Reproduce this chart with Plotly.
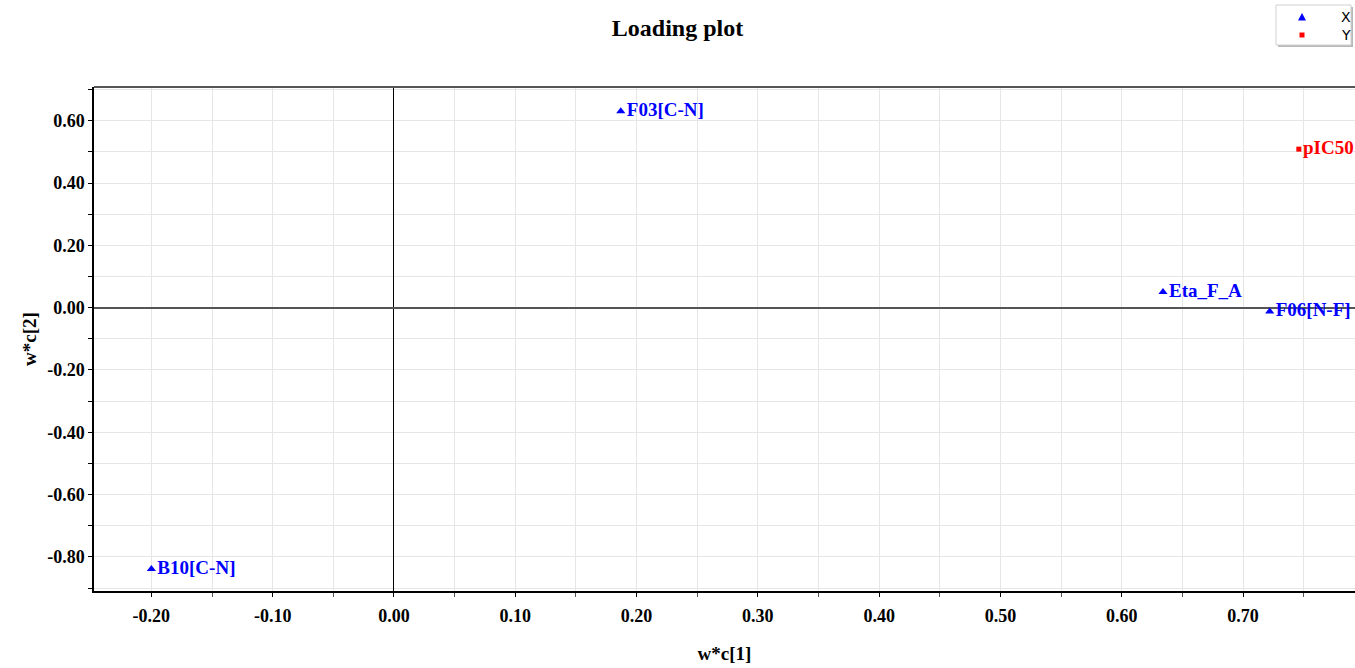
import plotly.graph_objects as go

# Loadings (w*c) for the X-block variables and the Y response
x_names = ["F03[C-N]", "B10[C-N]", "Eta_F_A", "F06[N-F]"]
x_wc1 = [0.187, -0.200, 0.634, 0.722]
x_wc2 = [0.631, -0.839, 0.050, -0.012]

y_names = ["pIC50"]
y_wc1 = [0.746]
y_wc2 = [0.509]

x_ticks = [-0.2, -0.1, 0.0, 0.1, 0.2, 0.3, 0.4, 0.5, 0.6, 0.7]
y_ticks = [-0.8, -0.6, -0.4, -0.2, 0.0, 0.2, 0.4, 0.6]

serif = "Liberation Serif"
blue = "#0000ff"
red = "#ff0000"

W, H = 1355, 668
ML, MR, MT, MB = 94, 0, 87, 77
PW, PH = W - ML - MR, H - MT - MB


def px(xp):
    """pixel column -> paper x"""
    return (xp - ML) / PW


def py(yp):
    """pixel row -> paper y"""
    return (H - MB - yp) / PH


fig = go.Figure()
fig.add_trace(go.Scatter(
    x=x_wc1, y=x_wc2, name="X", mode="markers+text",
    text=x_names, textposition="middle right",
    marker=dict(symbol="triangle-up", size=8, color=blue),
    textfont=dict(family=serif, size=19, color=blue, weight="bold"),
    cliponaxis=False,
))
fig.add_trace(go.Scatter(
    x=y_wc1, y=y_wc2, name="Y", mode="markers+text",
    text=y_names, textposition="middle right",
    marker=dict(symbol="square", size=5, color=red),
    textfont=dict(family=serif, size=19, color=red, weight="bold"),
    cliponaxis=False,
))

axis_font = dict(family=serif, size=18, color="#000000", weight="bold")

fig.update_xaxes(
    range=[-0.2473, 0.7923],
    tickvals=x_ticks, ticktext=[f"{v:.2f}" for v in x_ticks],
    tickfont=axis_font, ticks="outside", ticklen=4, tickcolor="#000",
    ticklabelstandoff=3,
    showgrid=True, gridcolor="#e6e6e6", gridwidth=1,
    minor=dict(dtick=0.05, showgrid=True, gridcolor="#e6e6e6",
               ticks="outside", ticklen=4, tickcolor="#555"),
    zeroline=True, zerolinecolor="#000000", zerolinewidth=1,
    showline=True, linecolor="#000000", linewidth=2,
    title=dict(text="w*c[1]", font=dict(family=serif, size=19, color="#000", weight="bold"),
               standoff=22),
)
fig.update_yaxes(
    range=[-0.9095, 0.7085],
    tickvals=y_ticks, ticktext=[f"{v:.2f}" for v in y_ticks],
    tickfont=axis_font, ticks="outside", ticklen=4, tickcolor="#000",
    showgrid=True, gridcolor="#e6e6e6", gridwidth=1,
    minor=dict(dtick=0.1, showgrid=True, gridcolor="#e6e6e6",
               ticks="outside", ticklen=4, tickcolor="#000"),
    zeroline=True, zerolinecolor="#555555", zerolinewidth=1.5,
    showline=True, linecolor="#000000", linewidth=1.5,
    title=dict(text="w*c[2]", font=dict(family=serif, size=19, color="#000", weight="bold"),
               standoff=6),
)

# top frame line
fig.add_shape(type="line", xref="paper", yref="paper", x0=0, x1=1, y0=1, y1=1,
              line=dict(color="#555555", width=2))

# legend box with a soft drop shadow
lx0, lx1, ly0, ly1 = 1276, 1351, 5, 45
fig.add_shape(type="rect", xref="paper", yref="paper",
              x0=px(lx0 + 2), x1=px(lx1 + 2), y0=py(ly1 + 2), y1=py(ly0 + 2),
              line=dict(width=0), fillcolor="#b8b8b8", layer="above")
fig.add_shape(type="rect", xref="paper", yref="paper",
              x0=px(lx0), x1=px(lx1), y0=py(ly1), y1=py(ly0),
              line=dict(color="#d0d0d0", width=1), fillcolor="white", layer="above")
# legend glyphs
tx, tyy = 1302, 17
fig.add_shape(type="path", xref="paper", yref="paper", layer="above",
              path=f"M {px(tx - 4)} {py(tyy + 3.5)} L {px(tx + 4)} {py(tyy + 3.5)} "
                   f"L {px(tx)} {py(tyy - 4)} Z",
              fillcolor=blue, line=dict(width=0))
sy = 35
fig.add_shape(type="rect", xref="paper", yref="paper", layer="above",
              x0=px(tx - 2.5), x1=px(tx + 2.5), y0=py(sy + 2.5), y1=py(sy - 2.5),
              fillcolor=red, line=dict(width=0))
for label, yy in (("X", 17), ("Y", 35)):
    fig.add_annotation(x=px(1346), y=py(yy), xref="paper", yref="paper",
                       text=label, showarrow=False, xanchor="center", yanchor="middle",
                       font=dict(family="DejaVu Sans", size=14, color="#000"))

fig.update_layout(
    width=W, height=H,
    margin=dict(l=ML, r=MR, t=MT, b=MB, autoexpand=False),
    paper_bgcolor="white", plot_bgcolor="white",
    title=dict(text="Loading plot", x=0.5, xref="container", xanchor="center",
               y=0.958, yref="container", yanchor="middle",
               font=dict(family=serif, size=24, color="#000", weight="bold")),
    showlegend=False,
)

fig.write_html("out.html")
